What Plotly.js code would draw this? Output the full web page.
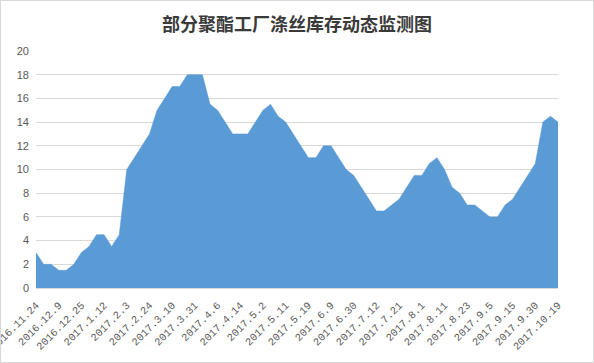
<!DOCTYPE html>
<html>
<head>
<meta charset="utf-8">
<script src="https://cdn.plot.ly/plotly-3.0.1.min.js"></script>
<style>
html, body { margin: 0; padding: 0; background: #ffffff; }
#chart { width: 592px; height: 361px; border: 1px solid #d9d9d9; }
</style>
</head>
<body>
<div id="chart"></div>
<script>
const inventory = [
  3, 2, 2, 1.5, 1.5, 2, 3, 3.5, 4.5, 4.5,
  3.5, 4.5, 10, 11, 12, 13, 15, 16, 17, 17,
  18, 18, 18, 15.5, 15, 14, 13, 13, 13, 14,
  15, 15.5, 14.5, 14, 13, 12, 11, 11, 12, 12,
  11, 10, 9.5, 8.5, 7.5, 6.5, 6.5, 7, 7.5, 8.5,
  9.5, 9.5, 10.5, 11, 10, 8.5, 8, 7, 7, 6.5,
  6, 6, 7, 7.5, 8.5, 9.5, 10.5, 14, 14.5, 14
];
// Date labels shown on the axis (every third observation)
const dateLabels = [
  "2016.11.24", "2016.12.9", "2016.12.25", "2017.1.12", "2017.2.3", "2017.2.24",
  "2017.3.10", "2017.3.31", "2017.4.6", "2017.4.14", "2017.5.2", "2017.5.11",
  "2017.5.19", "2017.6.9", "2017.6.30", "2017.7.12", "2017.7.21", "2017.8.1",
  "2017.8.11", "2017.8.23", "2017.9.5", "2017.9.15", "2017.9.30", "2017.10.19"
];
const titleText = "部分聚酯工厂涤丝库存动态监测图";

const idx = inventory.map((_, i) => i);
const labelPos = dateLabels.map((_, i) => i * 3);
const tickPos = idx.filter(i => i % 2 === 0);
const last = inventory.length - 1;

const trace = {
  x: idx,
  y: inventory,
  type: "scatter",
  mode: "lines",
  fill: "tozeroy",
  fillcolor: "#5b9bd5",
  line: { color: "#5b9bd5", width: 0.5 },
  hoverinfo: "skip",
  showlegend: false
};

const layout = {
  width: 592,
  height: 361,
  margin: { l: 35, r: 34.6, t: 50, b: 74 },
  paper_bgcolor: "#ffffff",
  plot_bgcolor: "#ffffff",
  title: {
    text: titleText,
    font: { family: "Noto Sans CJK SC", size: 18, color: "#3a3a3a", weight: "bold" },
    x: 0.5, xanchor: "center",
    xref: "container", yref: "container",
    y: 1 - 23.5 / 361, yanchor: "middle"
  },
  xaxis: {
    range: [0, last],
    tickmode: "array",
    tickvals: labelPos,
    ticktext: dateLabels,
    tickangle: -45,
    ticks: "",
    ticklabeloverflow: "allow",
    ticklabelstandoff: 6,
    showgrid: false,
    zeroline: false,
    showline: true,
    linecolor: "#d9d9d9",
    linewidth: 1,
    tickfont: { family: "Liberation Mono", size: 10.5, color: "#595959" },
    fixedrange: true
  },
  xaxis2: {
    range: [0, last],
    overlaying: "x",
    anchor: "y",
    tickmode: "array",
    tickvals: tickPos,
    ticks: "outside",
    ticklen: 5,
    tickcolor: "#d9d9d9",
    tickwidth: 1,
    showticklabels: false,
    showgrid: false,
    zeroline: false,
    showline: false
  },
  yaxis: {
    range: [0, 20],
    tickmode: "linear",
    tick0: 0,
    dtick: 2,
    ticks: "",
    showgrid: true,
    gridcolor: "#d9d9d9",
    gridwidth: 1,
    zeroline: false,
    showline: false,
    ticklabelstandoff: 6,
    tickfont: { family: "Liberation Sans", size: 11, color: "#595959" },
    fixedrange: true
  },
  showlegend: false
};

Plotly.newPlot("chart", [trace], layout, { displayModeBar: false, staticPlot: true });
</script>
</body>
</html>
